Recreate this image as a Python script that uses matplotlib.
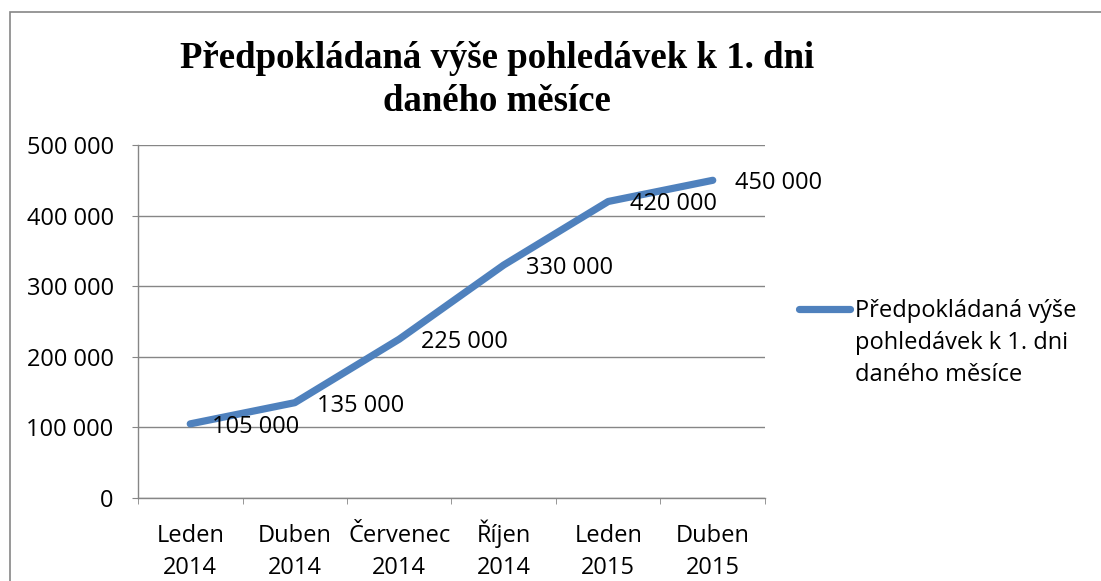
import matplotlib
matplotlib.use('Agg')
import matplotlib.pyplot as plt
from matplotlib.patches import Rectangle
from matplotlib.lines import Line2D
from matplotlib.ticker import FuncFormatter, FixedLocator

# data
months = ['Leden\n2014', 'Duben\n2014', 'Červenec\n2014', 'Říjen\n2014', 'Leden\n2015', 'Duben\n2015']
values = [105000, 135000, 225000, 330000, 420000, 450000]
series_name = 'Předpokládaná výše\npohledávek k 1. dni\ndaného měsíce'
title = 'Předpokládaná výše pohledávek k 1. dni\ndaného měsíce'

blue = '#4F81BD'
grey = '#868686'
sans = ['Open Sans', 'DejaVu Sans']
fs = 17

W, H = 1101, 581
fig = plt.figure(figsize=(W / 100, H / 100), dpi=100)
fig.patch.set_facecolor('white')

# outer frame of the chart
fig.patches.append(Rectangle((10 / W, -0.02), 1.05, (H - 12) / H + 0.02,
                             transform=fig.transFigure, fill=False,
                             edgecolor=grey, linewidth=1.2))

ax = fig.add_axes([138 / W, 1 - 498 / H, (765 - 138) / W, (498 - 145) / H])

x = list(range(len(months)))
line, = ax.plot(x, values, color=blue, linewidth=5.2, solid_capstyle='round',
                solid_joinstyle='round')

for xi, v in zip(x, values):
    ax.annotate(f'{v:,}'.replace(',', ' '), (xi, v), xytext=(22, -3),
                textcoords='offset pixels', ha='left', va='center',
                family=sans, size=fs)

ax.set_xlim(-0.5, len(months) - 0.5)
ax.set_ylim(0, 500000)
ax.set_yticks(range(0, 500001, 100000))
ax.yaxis.set_major_formatter(FuncFormatter(lambda v, p: f'{int(v):,}'.replace(',', ' ')))
ax.set_xticks(x)
# baseline of the last line is anchored -> consistent regardless of accents
ax.set_xticklabels(months, linespacing=1.45, va='baseline', family=sans, size=fs)
for lab in ax.get_yticklabels():
    lab.set_fontfamily(sans)
    lab.set_fontsize(fs)

# category boundary ticks
ax.xaxis.set_minor_locator(FixedLocator([i - 0.5 for i in range(len(months) + 1)]))
ax.tick_params(axis='x', which='major', length=0, pad=54.5)
ax.tick_params(axis='x', which='minor', length=4.5, color=grey, direction='out')
ax.tick_params(axis='y', length=4.5, color=grey, direction='out', pad=13)

ax.grid(axis='y', color=grey, linewidth=1)
ax.set_axisbelow(True)
for s in ['top', 'right']:
    ax.spines[s].set_visible(False)
for s in ['left', 'bottom']:
    ax.spines[s].set_color(grey)
    ax.spines[s].set_linewidth(1)

fig.text(497 / W, 1 - 80 / H, title, ha='center', va='center',
         family=['Liberation Serif', 'DejaVu Serif'], fontweight='bold',
         fontsize=26.5, linespacing=1.26)

# legend (handle aligned with first text line, as in the original)
fig.lines.append(Line2D([799 / W, 850 / W], [1 - 309 / H, 1 - 309 / H],
                        transform=fig.transFigure, color=blue, linewidth=5.2,
                        solid_capstyle='round'))
fig.text(855 / W, 1 - 381 / H, series_name, ha='left', va='baseline',
         family=sans, size=fs, linespacing=1.45)

fig.savefig('out.png', dpi=100)
